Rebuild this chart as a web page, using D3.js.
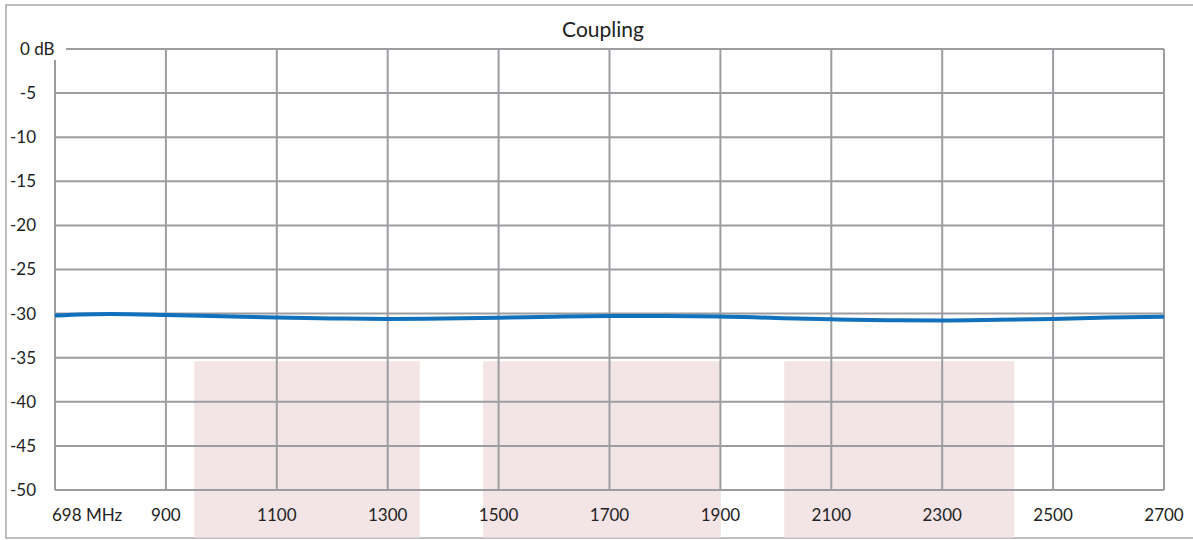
<!DOCTYPE html>
<html>
<head>
<meta charset="utf-8">
<script src="https://cdn.jsdelivr.net/npm/d3@7"></script>
<style>
  body { margin: 0; background: #fff; }
  text { font-family: Lato, "Open Sans", sans-serif; fill: #222; }
</style>
</head>
<body>
<div id="chart"></div>
<script>
// Coupling curve, every 100 MHz
let freqs = [700, 800, 900, 1000, 1100, 1200, 1300, 1400, 1500, 1600, 1700, 1800, 1900, 2000, 2100, 2200, 2300, 2400, 2500, 2600, 2700];
let coupling = [-30.22, -30.05, -30.15, -30.3, -30.45, -30.55, -30.6, -30.55, -30.47, -30.35, -30.28, -30.27, -30.32, -30.5, -30.65, -30.75, -30.78, -30.7, -30.6, -30.45, -30.35];

// x ticks and labels
let xTicks = [700, 900, 1100, 1300, 1500, 1700, 1900, 2100, 2300, 2500, 2700];
let xLabels = ["698 MHz", "900", "1100", "1300", "1500", "1700", "1900", "2100", "2300", "2500", "2700"];

// y ticks and labels
let yTicks = [0, -5, -10, -15, -20, -25, -30, -35, -40, -45, -50];
let yLabels = ["0 dB", "-5", "-10", "-15", "-20", "-25", "-30", "-35", "-40", "-45", "-50"];

// shaded frequency bands (MHz) and their dB extent
let bandStart = [951, 1472, 2015];
let bandEnd = [1358, 1901, 2430];
let bandTop = -35.4;
let bandBottom = -55.4;

let W = 1193, H = 540;
let svg = d3.select("#chart").append("svg")
	.attr("width", W)
	.attr("height", H);

let x = d3.scaleLinear().domain([700, 2700]).range([55, 1164]);
let y = d3.scaleLinear().domain([-50, 0]).range([490, 49]);

// outer frame
svg.append("rect")
	.attr("x", 6).attr("y", 5)
	.attr("width", 1195).attr("height", 533)
	.attr("fill", "none")
	.attr("stroke", "#a8a8a8")
	.attr("stroke-width", 1.5);

// bands
svg.selectAll(".band")
	.data(bandStart)
	.enter()
	.append("rect")
	.attr("class", "band")
	.attr("x", (d, i) => x(d))
	.attr("width", (d, i) => x(bandEnd[i]) - x(d))
	.attr("y", y(bandTop))
	.attr("height", y(bandBottom) - y(bandTop))
	.attr("fill", "#f3e5e6");

let gridColor = "#9d9da1";

// horizontal grid
svg.selectAll(".hgrid")
	.data(yTicks)
	.enter()
	.append("line")
	.attr("class", "hgrid")
	.attr("x1", x(700)).attr("x2", x(2700))
	.attr("y1", d => y(d)).attr("y2", d => y(d))
	.attr("stroke", gridColor)
	.attr("stroke-width", 2);

// vertical grid
svg.selectAll(".vgrid")
	.data(xTicks)
	.enter()
	.append("line")
	.attr("class", "vgrid")
	.attr("x1", d => x(d)).attr("x2", d => x(d))
	.attr("y1", y(0)).attr("y2", y(-50))
	.attr("stroke", gridColor)
	.attr("stroke-width", 2);

// coupling line
let line = d3.line()
	.x((d, i) => x(freqs[i]))
	.y(d => y(d))
	.curve(d3.curveMonotoneX);

svg.append("path")
	.datum(coupling)
	.attr("d", line)
	.attr("fill", "none")
	.attr("stroke", "#1271bc")
	.attr("stroke-width", 4);

// white box behind the "0 dB" label covering the corner
svg.append("rect")
	.attr("x", 16).attr("y", y(0) - 12)
	.attr("width", 50).attr("height", 23)
	.attr("fill", "#fff");

// y labels
svg.selectAll(".ylab")
	.data(yTicks)
	.enter()
	.append("text")
	.attr("class", "ylab")
	.attr("x", (d, i) => i == 0 ? 20 : 36)
	.attr("y", d => y(d))
	.attr("dy", "0.35em")
	.attr("text-anchor", (d, i) => i == 0 ? "start" : "end")
	.attr("font-size", 17)
	.text((d, i) => yLabels[i]);

// x labels
svg.selectAll(".xlab")
	.data(xTicks)
	.enter()
	.append("text")
	.attr("class", "xlab")
	.attr("x", (d, i) => i == 0 ? x(d) - 3 : x(d))
	.attr("y", 515)
	.attr("dy", "0.35em")
	.attr("text-anchor", (d, i) => i == 0 ? "start" : "middle")
	.attr("font-size", 17)
	.text((d, i) => xLabels[i]);

// title
svg.append("text")
	.attr("x", 603)
	.attr("y", 30)
	.attr("dy", "0.35em")
	.attr("text-anchor", "middle")
	.attr("font-size", 21)
	.text("Coupling");
</script>
</body>
</html>
